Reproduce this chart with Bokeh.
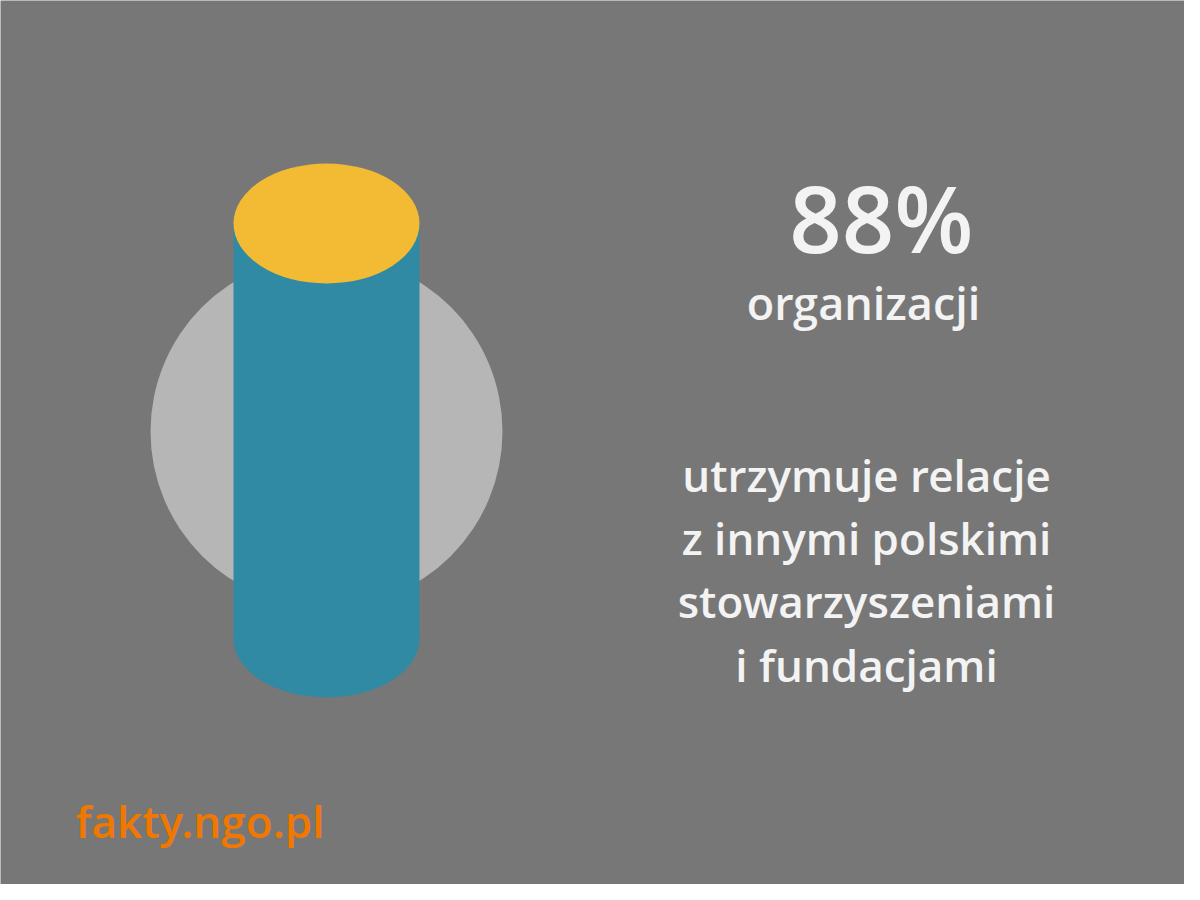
from bokeh.plotting import figure
from bokeh.models import Range1d
from bokeh.core.properties import value
from bokeh.embed import file_html
from bokeh.resources import INLINE

# ---- data ----
percent = [88]
headline = [f"{percent[0]}%"]
subject = ["organizacji"]
desc_lines = ["utrzymuje relacje", "z innymi polskimi", "stowarzyszeniami", "i fundacjami"]
source = ["fakty.ngo.pl"]

W, H = 1184, 884
p = figure(width=W, height=H, output_backend="svg", toolbar_location=None,
           x_range=Range1d(0, W), y_range=Range1d(0, H), min_border=0)
p.axis.visible = False
p.grid.visible = False
p.outline_line_color = None
p.background_fill_color = "#777777"
p.border_fill_color = "#777777"


def Y(y):
    return H - y


def TY(baseline, size):
    # place text so that its baseline lands at the given pixel row
    return Y(baseline) + 0.39 * size


FONT = value("Open Sans SemiBold")
TXT = "#f3f3f3"

# background circle
p.ellipse(x=[326], y=[Y(431)], width=[352], height=[352],
          fill_color="#b6b6b6", line_color=None)
# cylinder body
p.quad(left=[233], right=[419], bottom=[Y(638)], top=[Y(222)],
       fill_color="#318aa3", line_color=None)
p.ellipse(x=[326], y=[Y(638)], width=[186], height=[118],
          fill_color="#318aa3", line_color=None)
# top
p.ellipse(x=[326], y=[Y(223)], width=[186], height=[120],
          fill_color="#f3bb33", line_color=None)

# texts
p.text(x=[881], y=[TY(253, 92)], text=headline, text_font=FONT, text_font_size="92px",
       text_color=TXT, text_align="center", text_baseline="alphabetic")
p.text(x=[863], y=[TY(320, 45)], text=subject, text_font=FONT, text_font_size="45px",
       text_color=TXT, text_align="center", text_baseline="alphabetic")
line_y = [492, 555, 618, 682]
p.text(x=[866] * len(desc_lines), y=[TY(v, 44) for v in line_y], text=desc_lines, text_font=FONT,
       text_font_size="44px", text_color=TXT,
       text_align="center", text_baseline="alphabetic")
p.text(x=[75], y=[TY(838, 44)], text=source, text_font=FONT, text_font_size="44px",
       text_color="#f07800", text_align="left", text_baseline="alphabetic")

open("out.html", "w").write(file_html(p, INLINE))
